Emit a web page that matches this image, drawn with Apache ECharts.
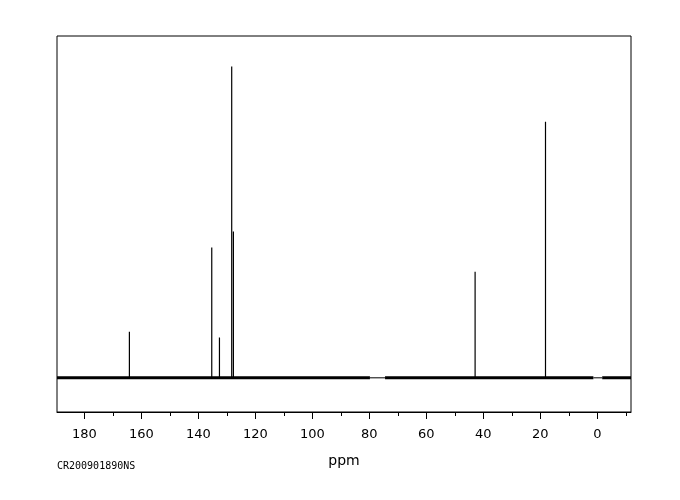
<!DOCTYPE html>
<html>
<head>
<meta charset="utf-8">
<script src="https://cdn.jsdelivr.net/npm/echarts@6/dist/echarts.min.js"></script>
<style>html,body{margin:0;padding:0;background:#fff}#c{width:680px;height:500px}</style>
</head>
<body>
<div id="c"></div>
<script>
// Peak positions (ppm) and heights (relative intensity, baseline = 0)
const peakPpm    = [164.2, 135.3, 132.6, 128.3, 127.7, 42.9, 18.2];
const peakHeight = [13.5,  38.1,  11.8,  91.1,  42.8,  31.0, 74.9];
// Baseline: noisy segments (drawn thick) and flat segments (drawn thin), as [from, to] ppm
const noisySegments = [[189.6, 79.8], [74.5, 1.4], [-1.7, -11.8]];
const flatSegments  = [[79.8, 74.5], [1.4, -1.7]];
// Axis ticks
const majorTicks = [180, 160, 140, 120, 100, 80, 60, 40, 20, 0];
const minorTicks = [170, 150, 130, 110, 90, 70, 50, 30, 10, -10];
const xMin = -11.8, xMax = 189.6;
const sampleId = 'CR200901890NS';
const axisTitle = 'ppm';

function segData(segs) {
  const d = [];
  segs.forEach((s, i) => {
    if (i > 0) d.push([null, null]);
    d.push([s[0], 0]);
    d.push([s[1], 0]);
  });
  return d;
}
const peakData = [];
peakPpm.forEach((p, i) => {
  if (i > 0) peakData.push([null, null]);
  peakData.push([p, 0]);
  peakData.push([p, peakHeight[i]]);
});

const chart = echarts.init(document.getElementById('c'), null, {renderer: 'canvas'});
chart.setOption({
  animation: false,
  backgroundColor: '#fff',
  grid: {left: 57, right: 49, top: 36, bottom: 88, show: true, borderColor: '#000', borderWidth: 1, backgroundColor: 'transparent'},
  xAxis: [{
    type: 'value', min: xMin, max: xMax, inverse: true,
    axisLine: {show: true, onZero: false, lineStyle: {color: '#000', width: 1}},
    axisTick: {show: true, length: 7, customValues: majorTicks, lineStyle: {color: '#000'}},
    axisLabel: {show: true, customValues: majorTicks, margin: 16, color: '#000', fontFamily: 'DejaVu Sans', fontSize: 13},
    splitLine: {show: false}
  }, {
    type: 'value', min: xMin, max: xMax, inverse: true, position: 'bottom', offset: 0,
    axisLine: {show: false, onZero: false},
    axisTick: {show: true, length: 4, customValues: minorTicks, lineStyle: {color: '#000'}},
    axisLabel: {show: false},
    splitLine: {show: false}
  }],
  yAxis: {type: 'value', min: -10, max: 100, show: false},
  graphic: [
    {type: 'text', style: {x: 57, y: 466, text: sampleId, fontFamily: 'DejaVu Sans Mono', fontSize: 10, fill: '#000', verticalAlign: 'middle', align: 'left'}},
    {type: 'text', style: {x: 344, y: 461.5, text: axisTitle, fontFamily: 'DejaVu Sans', fontSize: 14, fill: '#000', verticalAlign: 'middle', align: 'center'}}
  ],
  series: [
    {type: 'line', xAxisIndex: 0, data: segData(noisySegments), symbol: 'none', connectNulls: false, lineStyle: {color: '#000', width: 3}, silent: true},
    {type: 'line', xAxisIndex: 0, data: segData(flatSegments), symbol: 'none', connectNulls: false, lineStyle: {color: '#000', width: 1}, silent: true},
    {type: 'line', xAxisIndex: 0, data: peakData, symbol: 'none', connectNulls: false, lineStyle: {color: '#000', width: 1.2}, silent: true}
  ]
});
</script>
</body>
</html>
